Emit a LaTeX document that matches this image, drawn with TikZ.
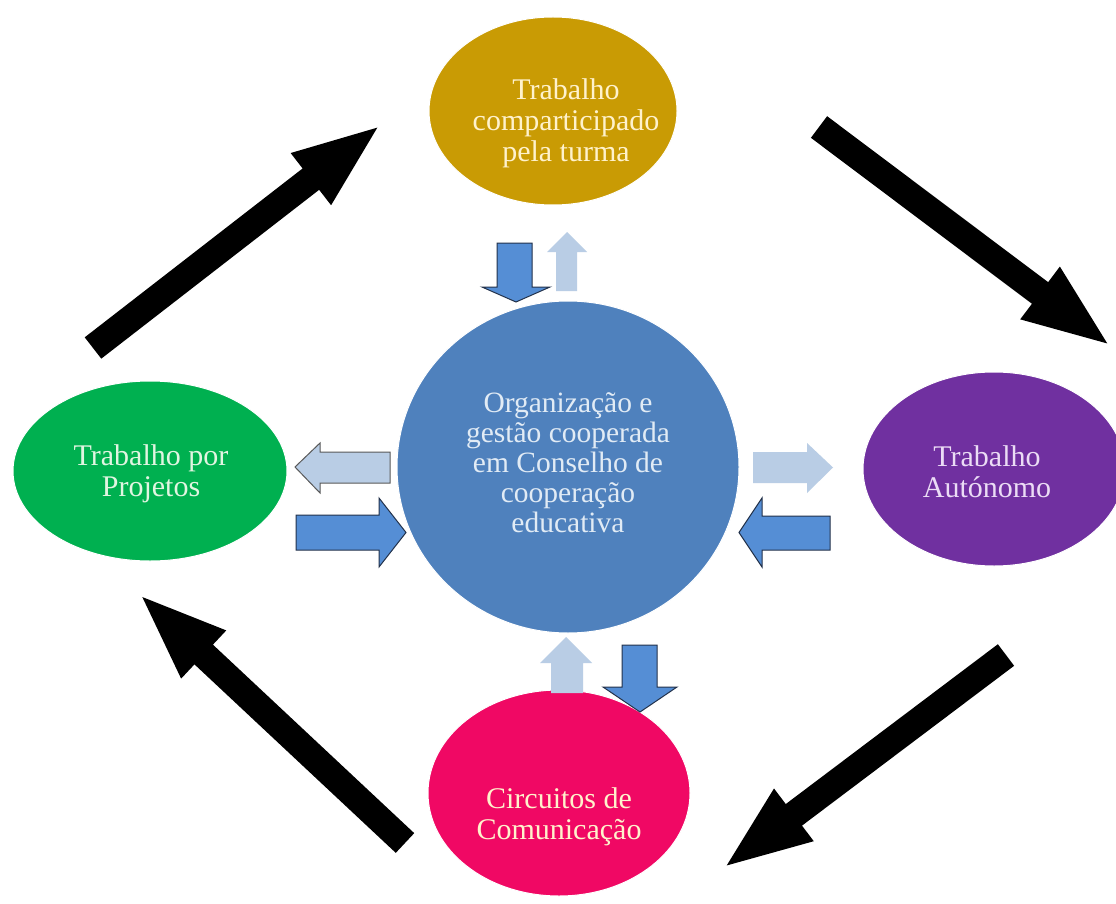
\documentclass[tikz,border=0pt]{standalone}
\usepackage{fontspec}
\setmainfont{Liberation Serif}
\usetikzlibrary{arrows.meta,shapes.geometric}
\definecolor{goldc}{RGB}{201,155,4}
\definecolor{greenc}{RGB}{0,176,80}
\definecolor{purplec}{RGB}{112,48,160}
\definecolor{pinkc}{RGB}{240,8,100}
\definecolor{bluec}{RGB}{79,129,189}
\definecolor{darkarr}{RGB}{85,142,213}
\definecolor{lightarr}{RGB}{185,205,229}
\definecolor{arrline}{RGB}{35,50,75}
\definecolor{cream}{RGB}{255,242,204}
\definecolor{greentxt}{RGB}{225,245,225}
\definecolor{purpletxt}{RGB}{235,220,245}
\definecolor{bluetxt}{RGB}{225,235,245}
\tikzset{
  blob/.style={ellipse, inner sep=0pt, draw=white, line width=1pt},
  lbl/.style={align=center, font=\fontsize{30}{31}\selectfont, inner sep=0pt},
  blk/.style={line width=27pt, black, -{Triangle[width=58pt,length=90pt]}},
  darkblock/.style={fill=darkarr, draw=arrline, line width=1pt, line join=miter},
  lightblock/.style={fill=lightarr},
}
\begin{document}
\begin{tikzpicture}[x=1pt,y=-1pt]
\useasboundingbox (0,0) rectangle (1116,904);
\fill[white] (0,0) rectangle (1116,904);

% ellipses
\node[blob, fill=goldc, minimum width=248pt, minimum height=188pt] (top) at (553,111) {};
\node[blob, fill=greenc, minimum width=274pt, minimum height=180pt] (left) at (150,471) {};
\node[blob, fill=purplec, minimum width=262pt, minimum height=194pt] (right) at (994,469) {};
\node[blob, fill=pinkc, minimum width=262pt, minimum height=206pt] (bottom) at (559,793) {};
\node[blob, fill=bluec, minimum width=342pt, minimum height=332pt] (center) at (568,467) {};

% texts
\node[lbl, text=cream] (ttop) at (566,123) {Trabalho\\comparticipado\\pela turma};
\node[lbl, text=greentxt] (tleft) at (151,474) {Trabalho por\\Projetos};
\node[lbl, text=purpletxt] (tright) at (987,472) {Trabalho\\Autónomo};
\node[lbl, text=cream] (tbottom) at (559,817) {Circuitos de\\Comunicação};
\node[lbl, text=bluetxt, font=\fontsize{29.5}{30}\selectfont] (tcenter) at (568,463) {Organização e\\gestão cooperada\\em Conselho de\\cooperação\\educativa};

% black cycle arrows
\coordinate (a1s) at (93,348);  \coordinate (a1e) at (382,124);
\coordinate (a2s) at (819,127); \coordinate (a2e) at (1112,347);
\coordinate (a3s) at (1006,655); \coordinate (a3e) at (722,869);
\coordinate (a4s) at (405,843); \coordinate (a4e) at (138,593);
\draw[blk] (a1s) -- (a1e);
\draw[blk] (a2s) -- (a2e);
\draw[blk] (a3s) -- (a3e);
\draw[blk] (a4s) -- (a4e);

% block arrows, left pair
\draw[lightblock, draw=black!65, line width=1pt] (295,467) -- (320,443) -- (320,452) -- (390,452) -- (390,483) -- (320,483) -- (320,493) -- cycle;
\draw[darkblock] (296,515) -- (379,515) -- (379,498) -- (406,532.5) -- (379,567) -- (379,550) -- (296,550) -- cycle;
% right pair
\fill[lightblock] (753,452) -- (807,452) -- (807,443) -- (833,467.5) -- (807,493) -- (807,483) -- (753,483) -- cycle;
\draw[darkblock] (739,532.5) -- (762,498) -- (762,516) -- (830,516) -- (830,550) -- (762,550) -- (762,567) -- cycle;
% top pair
\draw[darkblock] (497,243) -- (532,243) -- (532,287) -- (550,287) -- (516,302) -- (482,287) -- (497,287) -- cycle;
\fill[lightblock] (556,291) -- (556,252) -- (547,252) -- (567,232) -- (587,252) -- (577,252) -- (577,291) -- cycle;
% bottom pair
\fill[lightblock] (551,693) -- (551,663) -- (540,663) -- (566,637) -- (592,663) -- (583,663) -- (583,693) -- cycle;
\draw[darkblock] (622,645) -- (657,645) -- (657,687) -- (677,687) -- (640,712) -- (603,687) -- (622,687) -- cycle;
\end{tikzpicture}
\end{document}
